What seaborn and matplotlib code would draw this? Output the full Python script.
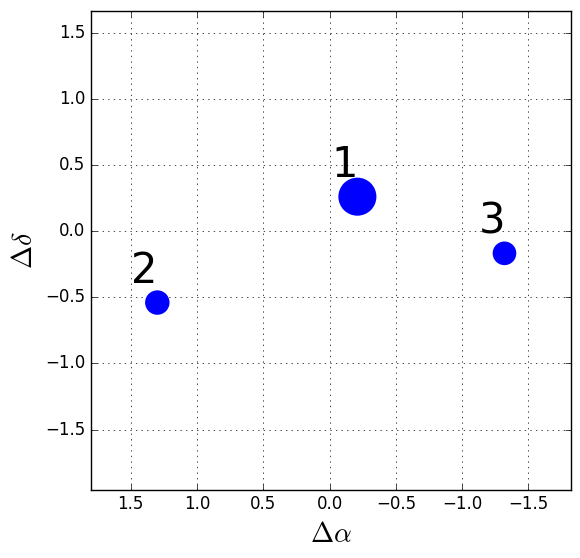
import numpy as np
import pandas as pd
import matplotlib
matplotlib.use('Agg')
import matplotlib.pyplot as plt
import seaborn as sns

# offsets (arcsec) of the three components
labels = ['1', '2', '3']
d_alpha = [-0.21, 1.30, -1.32]
d_delta = [0.26, -0.54, -0.168]
sizes = [750, 310, 290]

df = pd.DataFrame({'da': d_alpha, 'dd': d_delta, 'lab': labels, 's': sizes})

plt.style.use('classic')
fig = plt.figure(figsize=(5.8, 5.58), dpi=100, facecolor='white')
ax = fig.add_axes([0.157, 0.122, 0.827, 0.858])

sns.scatterplot(data=df, x='da', y='dd', size='s', sizes=(min(sizes), max(sizes)),
                color='blue', edgecolor='none', legend=False, ax=ax, zorder=3)

for i, row in df.iterrows():
    ax.text(row['da'] + 0.195, row['dd'] + 0.148, row['lab'], fontsize=30,
            ha='left', va='baseline')

ax.set_xlim(1.8, -1.82)
ax.set_ylim(-1.956, 1.662)
ax.set_xticks(np.arange(1.5, -1.51, -0.5))
ax.set_yticks(np.arange(-1.5, 1.51, 0.5))
ax.grid(True, linestyle=':', color='black')
ax.set_axisbelow(True)
ax.set_xlabel(r'$\Delta\alpha$', fontsize=20)
ax.set_ylabel(r'$\Delta\delta$', fontsize=20)

fig.savefig('out.png', dpi=100, facecolor='white')
